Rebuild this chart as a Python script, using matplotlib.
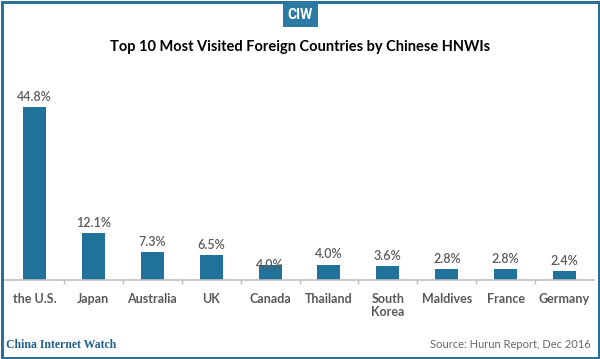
import matplotlib.pyplot as plt
from matplotlib.patches import Rectangle

countries = ['the U.S.', 'Japan', 'Australia', 'UK', 'Canada', 'Thailand',
             'South\nKorea', 'Maldives', 'France', 'Germany']
shares = [44.8, 12.1, 7.3, 6.5, 4.0, 4.0, 3.6, 2.8, 2.8, 2.4]

blue = '#21729b'
grey = '#595959'
W, H = 600, 359

fig = plt.figure(figsize=(6, 3.59), dpi=100)
ax = fig.add_axes([5 / W, 79 / H, 589 / W, 221 / H])

x = list(range(len(countries)))
ax.bar(x, shares, width=0.39, color=blue, zorder=2)
for i, v in enumerate(shares):
    # the Canada label sits lower in the original graphic
    off = -4.5 if i == 4 else 3
    ax.annotate(f'{v:.1f}%', (i, v), xytext=(0, off), textcoords='offset points',
                ha='center', va='bottom', fontsize=9, color=grey,
                family='Lato', fontweight='semibold', zorder=3)

ax.set_xlim(-0.5, len(countries) - 0.5)
ax.set_ylim(0, 57.2)
ax.set_yticks([])
ax.set_xticks([i + 0.5 for i in range(len(countries) - 1)], minor=False)
ax.set_xticklabels([])
ax.tick_params(axis='x', length=3, color='#bfbfbf', width=1)
for i, c in enumerate(countries):
    ax.text(i, -3.3, c, ha='center', va='top', fontsize=9, color=grey,
            family='Lato', fontweight='bold', linespacing=1.1)
for s in ['top', 'left', 'right']:
    ax.spines[s].set_visible(False)
ax.spines['bottom'].set_color('#bfbfbf')
ax.spines['bottom'].set_linewidth(1.2)

# frame round the picture
fig.patches.append(Rectangle((1.5 / W, 1.5 / H), 597 / W, 356 / H, transform=fig.transFigure,
                             fill=False, edgecolor='#2b6f96', linewidth=2.2))
fig.patches.append(Rectangle((283 / W, (H - 27) / H), 35 / W, 25 / H, transform=fig.transFigure,
                             facecolor='#2b7aa5', edgecolor='none'))
fig.text(300.5 / W, (H - 15) / H, 'CIW', ha='center', va='center', color='white',
         fontsize=10, fontweight='bold', family='Roboto')

fig.text(0.5, (H - 47) / H, 'Top 10 Most Visited Foreign Countries by Chinese HNWIs',
         ha='center', va='center', fontsize=10.5, fontweight='bold', family='Lato')
fig.text(6 / W, (H - 345) / H, 'China Internet Watch', ha='left', va='center',
         fontsize=8.5, fontweight='bold', family='Liberation Serif', color='#1f5f8b')
fig.text(591 / W, (H - 345) / H, 'Source: Hurun Report, Dec 2016', ha='right', va='center',
         fontsize=8, family='Lato', color='#666666')

fig.savefig('out.png', dpi=100)
